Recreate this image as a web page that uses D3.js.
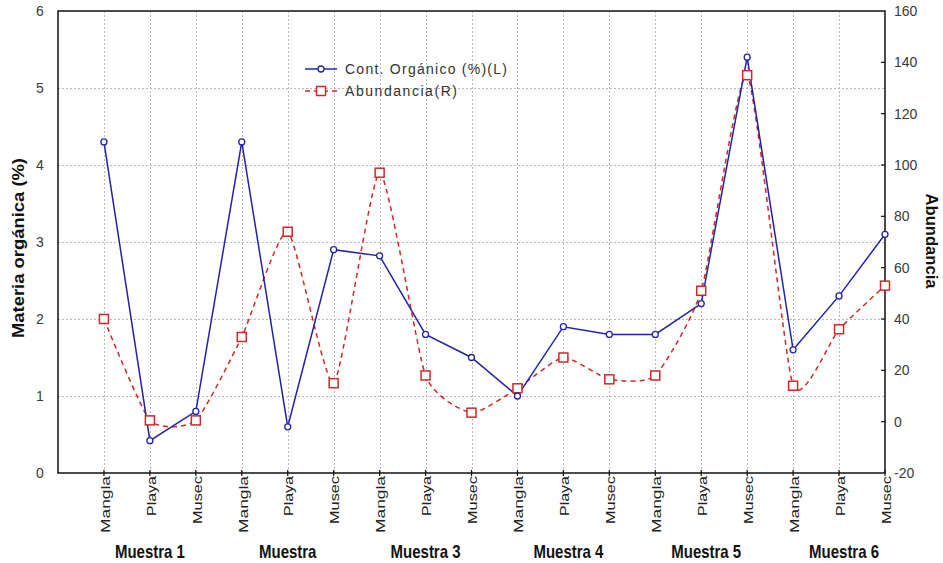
<!DOCTYPE html>
<html>
<head>
<meta charset="utf-8">
<script src="https://cdn.jsdelivr.net/npm/d3@7"></script>
<style>
  body { margin: 0; background: #fff; }
  text { font-family: "Liberation Sans", Arial, sans-serif; }
</style>
</head>
<body>
<script>
// sites repeat for every sample (labels are cut off in the original)
var sites = ["Mangla", "Playa", "Musec"];
var samples = ["Muestra 1", "Muestra", "Muestra 3", "Muestra 4", "Muestra 5", "Muestra 6"];

// Cont. Orgánico (%) - left axis
var organico = [4.3, 0.42, 0.8, 4.3, 0.6, 2.9, 2.82, 1.8, 1.5, 1.0, 1.9, 1.8, 1.8, 2.2, 5.4, 1.6, 2.3, 3.1];
// Abundancia - right axis
var abundancia = [40, 0.5, 0.5, 33, 74, 15, 97, 18, 3.5, 13, 25, 16.5, 18, 51, 135, 14, 36, 53];

var leftTicks = [0, 1, 2, 3, 4, 5, 6];
var rightTicks = [-20, 0, 20, 40, 60, 80, 100, 120, 140, 160];

var width = 943, height = 563;
// plot box (don't call it "top", that's window.top)
var plotL = 58, plotR = 885, plotT = 11, plotB = 473;

var blue = "#2222a8", red = "#d02828";

var svg = d3.select("body").append("svg")
    .attr("width", width)
    .attr("height", height);

var categories = [];
samples.forEach(function (s, i) {
    sites.forEach(function (site, j) { categories.push({ site: site, sample: i, idx: i * 3 + j }); });
});

// one slot per point, with an empty slot before the first
var x = d3.scaleLinear().domain([0, categories.length]).range([plotL, plotR]);
var yL = d3.scaleLinear().domain([0, 6]).range([plotB, plotT]);
var yR = d3.scaleLinear().domain([-20, 160]).range([plotB, plotT]);

// grid
var grid = svg.append("g").attr("stroke", "#b8b8b8").attr("stroke-width", 1).attr("stroke-dasharray", "2,2");
grid.selectAll("line.h")
    .data(leftTicks.slice(1, -1))
    .enter().append("line")
    .attr("x1", plotL).attr("x2", plotR)
    .attr("y1", function (d) { return Math.round(yL(d)) + 0.5; })
    .attr("y2", function (d) { return Math.round(yL(d)) + 0.5; });
grid.selectAll("line.v")
    .data(categories.slice(0, -1))
    .enter().append("line")
    .attr("y1", plotT).attr("y2", plotB)
    .attr("x1", function (d) { return Math.round(x(d.idx + 1)) + 0.5; })
    .attr("x2", function (d) { return Math.round(x(d.idx + 1)) + 0.5; });

// frame
svg.append("rect")
    .attr("x", plotL).attr("y", plotT)
    .attr("width", plotR - plotL).attr("height", plotB - plotT)
    .attr("fill", "none").attr("stroke", "#111").attr("stroke-width", 1.5);

// left axis labels
svg.append("g").selectAll("text")
    .data(leftTicks)
    .enter().append("text")
    .attr("x", 40).attr("y", function (d) { return yL(d); })
    .attr("dy", "0.35em")
    .attr("text-anchor", "middle")
    .attr("font-size", 14)
    .attr("fill", "#3a3a3a")
    .text(function (d) { return d; });

// right axis ticks and labels
var rAxis = svg.append("g");
rAxis.selectAll("line")
    .data(rightTicks.slice(1, -1))
    .enter().append("line")
    .attr("x1", plotR - 4).attr("x2", plotR)
    .attr("y1", function (d) { return yR(d); })
    .attr("y2", function (d) { return yR(d); })
    .attr("stroke", "#111").attr("stroke-width", 1.2);
rAxis.selectAll("text")
    .data(rightTicks)
    .enter().append("text")
    .attr("x", 894).attr("y", function (d) { return yR(d); })
    .attr("dy", "0.35em")
    .attr("font-size", 14)
    .attr("fill", "#3a3a3a")
    .text(function (d) { return d; });

// x ticks and rotated labels
var lengths = { "Mangla": 57, "Playa": 40, "Musec": 48 };
var xAxis = svg.append("g");
xAxis.selectAll("line")
    .data(categories)
    .enter().append("line")
    .attr("x1", function (d) { return x(d.idx + 1); })
    .attr("x2", function (d) { return x(d.idx + 1); })
    .attr("y1", plotB - 3).attr("y2", plotB + 3)
    .attr("stroke", "#111").attr("stroke-width", 1.2);
xAxis.selectAll("text")
    .data(categories)
    .enter().append("text")
    .attr("transform", function (d) { return "translate(" + (x(d.idx + 1) + 1) + "," + (plotB + 3) + ") rotate(-90)"; })
    .attr("dy", "0.35em")
    .attr("text-anchor", "end")
    .attr("font-size", 13.5)
    .attr("fill", "#222")
    .attr("textLength", function (d) { return lengths[d.site]; })
    .attr("lengthAdjust", "spacingAndGlyphs")
    .text(function (d) { return d.site; });

// sample group labels
svg.append("g").selectAll("text")
    .data(samples)
    .enter().append("text")
    .attr("transform", function (d, i) { return "translate(" + (x(i * 3 + 2) + (i > 2 ? 5 : 0)) + ",558) scale(1,1.2)"; })
    .attr("text-anchor", "middle")
    .attr("font-size", 15)
    .attr("font-weight", "bold")
    .attr("fill", "#111")
    .text(function (d) { return d; });

// axis titles
svg.append("text")
    .attr("transform", "translate(24,248) rotate(-90)")
    .attr("text-anchor", "middle")
    .attr("font-size", 17)
    .attr("font-weight", "bold")
    .attr("fill", "#111")
    .attr("textLength", 180)
    .attr("lengthAdjust", "spacingAndGlyphs")
    .text("Materia orgánica (%)");
svg.append("text")
    .attr("transform", "translate(926,241) rotate(90)")
    .attr("text-anchor", "middle")
    .attr("font-size", 16)
    .attr("font-weight", "bold")
    .attr("fill", "#111")
    .attr("textLength", 95)
    .attr("lengthAdjust", "spacingAndGlyphs")
    .text("Abundancia");

// series lines
var lineL = d3.line()
    .x(function (d, i) { return x(i + 1); })
    .y(function (d) { return yL(d); });
// abundance is a loose spline in the original, tighter than monotone
var lineR = d3.line()
    .x(function (d, i) { return x(i + 1); })
    .y(function (d) { return yR(d); })
    .curve(d3.curveCardinal.tension(0.45));

svg.append("path")
    .datum(abundancia)
    .attr("d", lineR)
    .attr("fill", "none")
    .attr("stroke", red)
    .attr("stroke-width", 1.5)
    .attr("stroke-dasharray", "5,4");

svg.append("path")
    .datum(organico)
    .attr("d", lineL)
    .attr("fill", "none")
    .attr("stroke", blue)
    .attr("stroke-width", 1.5);

// markers
svg.append("g").selectAll("rect")
    .data(abundancia)
    .enter().append("rect")
    .attr("x", function (d, i) { return x(i + 1) - 4.5; })
    .attr("y", function (d) { return yR(d) - 4.5; })
    .attr("width", 9).attr("height", 9)
    .attr("fill", "#fff")
    .attr("stroke", red)
    .attr("stroke-width", 1.5);

svg.append("g").selectAll("circle")
    .data(organico)
    .enter().append("circle")
    .attr("cx", function (d, i) { return x(i + 1); })
    .attr("cy", function (d) { return yL(d); })
    .attr("r", 3)
    .attr("fill", "#fff")
    .attr("stroke", blue)
    .attr("stroke-width", 1.3);

// legend
var legend = svg.append("g");
legend.append("line")
    .attr("x1", 305).attr("x2", 337).attr("y1", 69).attr("y2", 69)
    .attr("stroke", blue).attr("stroke-width", 1.5);
legend.append("circle")
    .attr("cx", 321).attr("cy", 69).attr("r", 3)
    .attr("fill", "#fff").attr("stroke", blue).attr("stroke-width", 1.3);
legend.append("line")
    .attr("x1", 305).attr("x2", 337).attr("y1", 91).attr("y2", 91)
    .attr("stroke", red).attr("stroke-width", 1.5).attr("stroke-dasharray", "5,4");
legend.append("rect")
    .attr("x", 316.5).attr("y", 86.5).attr("width", 9).attr("height", 9)
    .attr("fill", "#fff").attr("stroke", red).attr("stroke-width", 1.5);
legend.append("text")
    .attr("x", 345).attr("y", 69).attr("dy", "0.35em")
    .attr("font-size", 14).attr("fill", "#333")
    .attr("textLength", 162).attr("lengthAdjust", "spacing")
    .text("Cont. Orgánico (%)(L)");
legend.append("text")
    .attr("x", 345).attr("y", 91).attr("dy", "0.35em")
    .attr("font-size", 14).attr("fill", "#333")
    .attr("textLength", 112).attr("lengthAdjust", "spacing")
    .text("Abundancia(R)");
</script>
</body>
</html>
